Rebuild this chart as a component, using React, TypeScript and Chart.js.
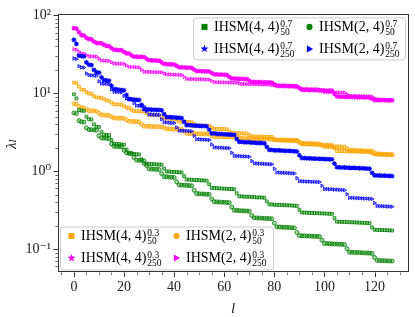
import React, { useEffect, useRef } from 'react';
import { Chart, registerables } from 'chart.js';

Chart.register(...registerables);

// ---------------- data (index = l, 0..127) ----------------
const green44 = [
  9.7, 8.6,
  6.1, 6.0, 5.95,
  5.0, 4.65, 4.6,
  4.0, 3.72, 3.68,
  3.2, 2.95, 2.92, 2.9,
  2.5, 2.26, 2.24, 2.22, 2.2, 2.19,
  1.9, 1.68, 1.67, 1.66, 1.65, 1.64,
  1.42, 1.25, 1.24, 1.24, 1.23, 1.23, 1.22, 1.22, 1.21,
  1.08, 0.99, 0.99, 0.98, 0.98, 0.97, 0.97, 0.96,
  0.86, 0.78, 0.78, 0.775, 0.77, 0.77, 0.765, 0.76, 0.76, 0.755,
  0.68, 0.61, 0.61, 0.605, 0.6, 0.6, 0.595, 0.595, 0.59, 0.59, 0.585,
  0.52, 0.475, 0.475, 0.47, 0.47, 0.47, 0.465, 0.465, 0.46, 0.46, 0.46, 0.455,
  0.41, 0.375, 0.375, 0.37, 0.37, 0.37, 0.368, 0.366, 0.365, 0.364, 0.362, 0.36, 0.358,
  0.32, 0.295, 0.294, 0.293, 0.292, 0.291, 0.29, 0.289, 0.288, 0.287, 0.286, 0.285, 0.284, 0.283,
  0.25, 0.225, 0.224, 0.223, 0.223, 0.222, 0.221, 0.221, 0.22, 0.219, 0.218, 0.218, 0.217, 0.216, 0.215,
  0.19, 0.177, 0.176, 0.176, 0.175, 0.175, 0.174, 0.174, 0.173,
];

const green24 = [
  5.6, 5.5,
  4.45, 4.3, 4.27,
  3.6, 3.42, 3.4, 3.38, 3.36,
  2.85, 2.67, 2.65, 2.64, 2.62,
  2.25, 2.09, 2.08, 2.07, 2.06,
  1.85, 1.72, 1.71, 1.7,
  1.5, 1.39, 1.38, 1.37, 1.36,
  1.18, 1.07, 1.065, 1.06, 1.055, 1.05,
  0.93, 0.85, 0.845, 0.84, 0.835, 0.83,
  0.73, 0.665, 0.662, 0.66, 0.657, 0.654, 0.65,
  0.57, 0.515, 0.513, 0.51, 0.508, 0.506, 0.504,
  0.44, 0.405, 0.403, 0.401, 0.4, 0.398, 0.396, 0.394,
  0.345, 0.315, 0.313, 0.312, 0.31, 0.309, 0.308, 0.306,
  0.27, 0.252, 0.251, 0.25, 0.249, 0.248, 0.247, 0.246, 0.245,
  0.215, 0.193, 0.192, 0.191, 0.19, 0.19, 0.189, 0.188, 0.187,
  0.163, 0.149, 0.148, 0.148, 0.147, 0.147, 0.146, 0.146, 0.145, 0.145,
  0.13, 0.118, 0.118, 0.117, 0.117, 0.116, 0.116, 0.115, 0.115, 0.114,
  0.101, 0.091, 0.091, 0.0905, 0.09, 0.09, 0.0895, 0.089, 0.089, 0.0885, 0.088,
  0.078, 0.0715, 0.0713, 0.071, 0.0708, 0.0705, 0.0703, 0.07,
];

const blue44 = [
  48.5, 43,
  30.5, 30, 29.75,
  25, 23.25, 23,
  20, 18.6, 18.4,
  16, 14.75, 14.6, 14.5,
  12.5, 11.3, 11.2, 11.1, 11, 10.95,
  9.5, 8.4, 8.35, 8.3, 8.25, 8.2,
  7.1, 6.25, 6.2, 6.2, 6.15, 6.15, 6.1, 6.1, 6.05,
  5.4, 4.95, 4.95, 4.9, 4.9, 4.85, 4.85, 4.8,
  4.3, 3.9, 3.9, 3.875, 3.85, 3.85, 3.825, 3.8, 3.8, 3.775,
  3.4, 3.05, 3.05, 3.025, 3, 3, 2.975, 2.975, 2.95, 2.95, 2.925,
  2.6, 2.375, 2.375, 2.35, 2.35, 2.35, 2.325, 2.325, 2.3, 2.3, 2.3, 2.275,
  2.05, 1.875, 1.875, 1.85, 1.85, 1.85, 1.84, 1.83, 1.825, 1.82, 1.81, 1.8, 1.79,
  1.6, 1.475, 1.47, 1.465, 1.46, 1.455, 1.45, 1.445, 1.44, 1.435, 1.43, 1.425, 1.42, 1.415,
  1.25, 1.125, 1.12, 1.115, 1.115, 1.11, 1.105, 1.105, 1.1, 1.095, 1.09, 1.09, 1.085, 1.08, 1.075,
  0.95, 0.885, 0.88, 0.88, 0.875, 0.875, 0.87, 0.87, 0.865,
];

const blue24 = [
  28, 27.5,
  22.25, 21.5, 21.35,
  18, 17.1, 17, 16.9, 16.8,
  14.25, 13.35, 13.25, 13.2, 13.1,
  11.25, 10.45, 10.4, 10.35, 10.3,
  9.25, 8.6, 8.55, 8.5,
  7.5, 6.95, 6.9, 6.85, 6.8,
  5.9, 5.35, 5.325, 5.3, 5.275, 5.25,
  4.65, 4.25, 4.225, 4.2, 4.175, 4.15,
  3.65, 3.325, 3.31, 3.3, 3.285, 3.27, 3.25,
  2.85, 2.575, 2.565, 2.55, 2.54, 2.53, 2.52,
  2.2, 2.025, 2.015, 2.005, 2, 1.99, 1.98, 1.97,
  1.725, 1.575, 1.565, 1.56, 1.55, 1.545, 1.54, 1.53,
  1.35, 1.26, 1.255, 1.25, 1.245, 1.24, 1.235, 1.23, 1.225,
  1.075, 0.965, 0.96, 0.955, 0.95, 0.95, 0.945, 0.94, 0.935,
  0.815, 0.745, 0.74, 0.74, 0.735, 0.735, 0.73, 0.73, 0.725, 0.725,
  0.65, 0.59, 0.59, 0.585, 0.585, 0.58, 0.58, 0.575, 0.575, 0.57,
  0.505, 0.455, 0.455, 0.4525, 0.45, 0.45, 0.4475, 0.445, 0.445, 0.4425, 0.44,
  0.39, 0.3575, 0.3565, 0.355, 0.354, 0.3525, 0.3515, 0.35,
];

const orange44 = [
  13.7, 13.5,
  12.2, 11.15, 11.05,
  10.3, 9.95, 9.85,
  9.2, 8.85, 8.8, 8.75,
  8.4, 8.1, 8.05,
  7.6, 7.25, 7.2, 7.18, 7.15,
  6.8, 6.52, 6.48,
  6.15, 5.92, 5.9, 5.88, 5.86, 5.84,
  5.55, 5.32, 5.3, 5.28, 5.26, 5.24,
  4.98, 4.76, 4.74, 4.72, 4.7, 4.68,
  4.5, 4.32, 4.3, 4.29, 4.28, 4.26, 4.25,
  4.03, 3.86, 3.85, 3.84, 3.83, 3.82, 3.81,
  3.64, 3.5, 3.49, 3.48, 3.47, 3.46, 3.45,
  3.25, 3.1, 3.09, 3.08, 3.07, 3.06, 3.05, 3.04,
  2.9, 2.8, 2.79, 2.78, 2.78, 2.77, 2.76, 2.76, 2.75, 2.74,
  2.6, 2.5, 2.49, 2.48, 2.48, 2.47, 2.46, 2.46, 2.45, 2.44,
  2.32, 2.22, 2.21, 2.21, 2.2, 2.2, 2.19, 2.19, 2.18, 2.18, 2.17, 2.17, 2.16, 2.16,
  1.97, 1.82, 1.81, 1.81, 1.8, 1.8, 1.8, 1.79, 1.79, 1.78, 1.78, 1.78, 1.77, 1.77, 1.76,
  1.7, 1.64, 1.64, 1.63, 1.63, 1.63, 1.62, 1.62, 1.62,
];

const orange24 = [
  7.35, 7.25,
  6.8, 6.5, 6.45,
  6.2, 5.97, 5.95, 5.93, 5.9,
  5.55, 5.27, 5.25, 5.23, 5.2,
  5.0, 4.82, 4.8, 4.79, 4.78, 4.76,
  4.55, 4.37, 4.35, 4.34, 4.32, 4.3,
  4.0, 3.78, 3.77, 3.76, 3.75, 3.74, 3.73, 3.72, 3.71,
  3.6, 3.5, 3.49, 3.48, 3.47, 3.46, 3.45, 3.44,
  3.25, 3.06, 3.05, 3.05, 3.04, 3.03, 3.03, 3.02, 3.01, 3.0, 3.0,
  2.88, 2.78, 2.77, 2.77, 2.76, 2.76, 2.75, 2.75, 2.74, 2.74, 2.73,
  2.68, 2.63, 2.63, 2.62, 2.62, 2.62, 2.61, 2.61, 2.6, 2.6, 2.6, 2.59, 2.59,
  2.55, 2.53, 2.52, 2.52, 2.51, 2.51, 2.5, 2.5, 2.5, 2.49, 2.49,
  2.38, 2.28, 2.27, 2.27, 2.26, 2.26, 2.25, 2.25, 2.24,
  2.15, 2.08, 2.07, 2.07, 2.06, 2.06, 2.05, 2.05, 2.04, 2.04,
  1.94, 1.86, 1.85, 1.85, 1.84, 1.84, 1.83, 1.83, 1.82, 1.82, 1.81,
  1.72, 1.66, 1.66, 1.65, 1.65, 1.64, 1.64, 1.63,
];

const magenta44 = [
  68.5, 67.5,
  61, 55.75, 55.25,
  51.5, 49.75, 49.25,
  46, 44.25, 44, 43.75,
  42, 40.5, 40.25,
  38, 36.25, 36, 35.9, 35.75,
  34, 32.6, 32.4,
  30.75, 29.6, 29.5, 29.4, 29.3, 29.2,
  27.75, 26.6, 26.5, 26.4, 26.3, 26.2,
  24.9, 23.8, 23.7, 23.6, 23.5, 23.4,
  22.5, 21.6, 21.5, 21.45, 21.4, 21.3, 21.25,
  20.15, 19.3, 19.25, 19.2, 19.15, 19.1, 19.05,
  18.2, 17.5, 17.45, 17.4, 17.35, 17.3, 17.25,
  16.25, 15.5, 15.45, 15.4, 15.35, 15.3, 15.25, 15.2,
  14.5, 14, 13.95, 13.9, 13.9, 13.85, 13.8, 13.8, 13.75, 13.7,
  13, 12.5, 12.45, 12.4, 12.4, 12.35, 12.3, 12.3, 12.25, 12.2,
  11.6, 11.1, 11.05, 11.05, 11, 11, 10.95, 10.95, 10.9, 10.9, 10.85, 10.85, 10.8, 10.8,
  9.85, 9.1, 9.05, 9.05, 9, 9, 9, 8.95, 8.95, 8.9, 8.9, 8.9, 8.85, 8.85, 8.8,
  8.5, 8.2, 8.2, 8.15, 8.15, 8.15, 8.1, 8.1, 8.1,
];

const magenta24 = [
  36.75, 36.25,
  34, 32.5, 32.25,
  31, 29.85, 29.75, 29.65, 29.5,
  27.75, 26.35, 26.25, 26.15, 26,
  25, 24.1, 24, 23.95, 23.9, 23.8,
  22.75, 21.85, 21.75, 21.7, 21.6, 21.5,
  20, 18.9, 18.85, 18.8, 18.75, 18.7, 18.65, 18.6, 18.55,
  18, 17.5, 17.45, 17.4, 17.35, 17.3, 17.25, 17.2,
  16.25, 15.3, 15.25, 15.25, 15.2, 15.15, 15.15, 15.1, 15.05, 15, 15,
  14.4, 13.9, 13.85, 13.85, 13.8, 13.8, 13.75, 13.75, 13.7, 13.7, 13.65,
  13.4, 13.15, 13.15, 13.1, 13.1, 13.1, 13.05, 13.05, 13, 13, 13, 12.95, 12.95,
  12.75, 12.65, 12.6, 12.6, 12.55, 12.55, 12.5, 12.5, 12.5, 12.45, 12.45,
  11.9, 11.4, 11.35, 11.35, 11.3, 11.3, 11.25, 11.25, 11.2,
  10.75, 10.4, 10.35, 10.35, 10.3, 10.3, 10.25, 10.25, 10.2, 10.2,
  9.7, 9.3, 9.25, 9.25, 9.2, 9.2, 9.15, 9.15, 9.1, 9.1, 9.05,
  8.6, 8.3, 8.3, 8.25, 8.25, 8.2, 8.2, 8.15,
];

const xTicks = [0, 20, 40, 60, 80, 100, 120];
const yTicks = [0.1, 1, 10, 100];
const yTickLabels = ['10⁻¹', '10⁰', '10¹', '10²'];

// ---------------- styling ----------------
const FONT = '"Liberation Serif", "DejaVu Serif", serif';
const SPINE = '#333333';

type Marker = 'rect' | 'circle' | 'star' | 'triangle';
const SERIES: { name: string; sup: string; sub: string; values: number[]; color: string; marker: Marker }[] = [
  { name: 'IHSM(4, 4)', sup: '0.7', sub: '50', values: green44, color: '#008000', marker: 'rect' },
  { name: 'IHSM(2, 4)', sup: '0.7', sub: '50', values: green24, color: '#008000', marker: 'circle' },
  { name: 'IHSM(4, 4)', sup: '0.7', sub: '250', values: blue44, color: '#0000ff', marker: 'star' },
  { name: 'IHSM(2, 4)', sup: '0.7', sub: '250', values: blue24, color: '#0000ff', marker: 'triangle' },
  { name: 'IHSM(4, 4)', sup: '0.3', sub: '50', values: orange44, color: '#ffa500', marker: 'rect' },
  { name: 'IHSM(2, 4)', sup: '0.3', sub: '50', values: orange24, color: '#ffa500', marker: 'circle' },
  { name: 'IHSM(4, 4)', sup: '0.3', sub: '250', values: magenta44, color: '#ff00ff', marker: 'star' },
  { name: 'IHSM(2, 4)', sup: '0.3', sub: '250', values: magenta24, color: '#ff00ff', marker: 'triangle' },
];

function rgba(hex: string, a: number) {
  const n = parseInt(hex.slice(1), 16);
  return `rgba(${(n >> 16) & 255},${(n >> 8) & 255},${n & 255},${a})`;
}

function drawMarker(ctx: CanvasRenderingContext2D, m: Marker, x: number, y: number, color: string) {
  ctx.save();
  ctx.fillStyle = color;
  ctx.beginPath();
  if (m === 'rect') {
    ctx.rect(x - 3, y - 3, 6, 6);
  } else if (m === 'circle') {
    ctx.arc(x, y, 3.1, 0, Math.PI * 2);
  } else if (m === 'star') {
    for (let i = 0; i < 10; i++) {
      const r = i % 2 === 0 ? 4.2 : 1.7;
      const ang = -Math.PI / 2 + (i * Math.PI) / 5;
      const px = x + r * Math.cos(ang);
      const py = y + r * Math.sin(ang);
      if (i === 0) ctx.moveTo(px, py);
      else ctx.lineTo(px, py);
    }
    ctx.closePath();
  } else {
    ctx.moveTo(x + 3.6, y);
    ctx.lineTo(x - 2.6, y - 3.6);
    ctx.lineTo(x - 2.6, y + 3.6);
    ctx.closePath();
  }
  ctx.fill();
  ctx.restore();
}

function drawLegend(ctx: CanvasRenderingContext2D, left: number, top: number, w: number, h: number, entries: typeof SERIES) {
  ctx.save();
  ctx.beginPath();
  (ctx as any).roundRect(left + 0.5, top + 0.5, w, h, 3);
  ctx.fillStyle = 'rgba(255,255,255,0.8)';
  ctx.fill();
  ctx.strokeStyle = '#cccccc';
  ctx.lineWidth = 1;
  ctx.stroke();
  entries.forEach((e, i) => {
    const col = i % 2;
    const row = Math.floor(i / 2);
    const mx = left + 11.5 + col * 105;
    const my = top + 9.5 + row * 22;
    drawMarker(ctx, e.marker, mx, my, e.color);
    const tx = mx + 9.5;
    const ty = my + 4.2;
    ctx.fillStyle = '#000';
    ctx.textBaseline = 'alphabetic';
    ctx.textAlign = 'left';
    ctx.font = `14px ${FONT}`;
    ctx.fillText(e.name, tx, ty);
    const tw = ctx.measureText(e.name).width;
    ctx.font = `9.5px ${FONT}`;
    ctx.fillText(e.sup, tx + tw + 1, ty - 3.8);
    ctx.fillText(e.sub, tx + tw + 1, ty + 3.6);
  });
  ctx.restore();
}

const mplPlugin = {
  id: 'mplAxes',
  afterDatasetsDraw(chart: any) {
    const { ctx, chartArea: a } = chart;
    const xs = chart.scales.x;
    const ys = chart.scales.y;
    ctx.save();
    ctx.strokeStyle = SPINE;
    const line = (x1: number, y1: number, x2: number, y2: number, w: number) => {
      ctx.lineWidth = w;
      ctx.beginPath();
      ctx.moveTo(x1, y1);
      ctx.lineTo(x2, y2);
      ctx.stroke();
    };
    // x ticks (major every 20, minor every 5)
    for (let v = -5; v <= 130; v += 5) {
      const px = Math.round(xs.getPixelForValue(v)) + 0.5;
      const major = v % 20 === 0;
      line(px, a.bottom, px, a.bottom + (major ? 4.5 : 2.6), major ? 1 : 0.7);
    }
    // y ticks (log decades major, 2..9 minor)
    for (let k = -2; k <= 2; k++) {
      for (let m = 1; m <= 9; m++) {
        const v = m * Math.pow(10, k);
        if (v < 0.0501 || v > 100.01) continue;
        const py = Math.round(ys.getPixelForValue(v)) + 0.5;
        const major = m === 1;
        line(a.left, py, a.left - (major ? 4.5 : 2.6), py, major ? 1 : 0.7);
      }
    }
    // frame
    ctx.lineWidth = 1;
    ctx.strokeRect(Math.round(a.left) + 0.5, Math.round(a.top) - 0.5, Math.round(a.right - a.left), Math.round(a.bottom - a.top));
    ctx.restore();
  },
  afterDraw(chart: any) {
    const { ctx, chartArea: a } = chart;
    drawLegend(ctx, a.right - 215, a.top + 2, 212, 42, SERIES.slice(0, 4));
    drawLegend(ctx, a.left + 2, a.bottom - 46, 213, 43, SERIES.slice(4, 8));
  },
};

export default function App() {
  const canvasRef = useRef<HTMLCanvasElement | null>(null);

  useEffect(() => {
    const canvas = canvasRef.current;
    if (!canvas) return;
    const chart = new Chart(canvas, {
      type: 'scatter',
      data: {
        datasets: SERIES.map((s) => ({
          label: s.name,
          data: s.values.map((v, i) => ({ x: i, y: v })),
          pointStyle: s.marker === 'triangle' ? 'triangle' : s.marker,
          rotation: s.marker === 'triangle' ? 90 : 0,
          pointRadius: s.marker === 'star' ? 2.4 : 2,
          pointBorderWidth: s.marker === 'star' ? 1.1 : 0.8,
          borderColor: s.color,
          backgroundColor: rgba(s.color, 0.35),
          showLine: false,
        })),
      },
      options: {
        animation: false,
        responsive: false,
        devicePixelRatio: 1,
        layout: { padding: { top: 12, right: 7, left: 0, bottom: 0 } },
        plugins: { legend: { display: false }, tooltip: { enabled: false } },
        events: [],
        scales: {
          x: {
            type: 'linear',
            min: -6.35,
            max: 133.35,
            afterBuildTicks: (s: any) => {
              s.ticks = xTicks.map((v) => ({ value: v }));
            },
            afterFit: (s: any) => {
              s.height = 44.5;
            },
            grid: { display: false, drawTicks: false },
            border: { display: false },
            ticks: {
              padding: 6,
              color: '#222',
              font: { family: FONT, size: 14 },
              autoSkip: false,
              maxRotation: 0,
              callback: (v: any) => String(v),
            },
            title: {
              display: true,
              text: 'l',
              color: '#222',
              padding: 0,
              font: { family: FONT, size: 15, style: 'italic', lineHeight: 1 },
            },
          },
          y: {
            type: 'logarithmic',
            min: 0.05,
            max: 100,
            afterBuildTicks: (s: any) => {
              s.ticks = yTicks.map((v) => ({ value: v }));
            },
            afterFit: (s: any) => {
              s.width = 58;
            },
            grid: { display: false, drawTicks: false },
            border: { display: false },
            ticks: {
              padding: 7,
              color: '#222',
              font: { family: FONT, size: 14 },
              autoSkip: false,
              callback: (_v: any, i: number) => yTickLabels[i],
            },
            title: {
              display: true,
              text: 'λₗ',
              color: '#222',
              padding: { top: 5, bottom: 0 },
              font: { family: FONT, size: 15, style: 'italic', lineHeight: 1 },
            },
          },
        },
      },
      plugins: [mplPlugin],
    } as any);
    return () => chart.destroy();
  }, []);

  return (
    <div style={{ position: 'fixed', left: 0, top: 0, width: 415, height: 317, background: '#fff' }}>
      <canvas ref={canvasRef} width={415} height={317} style={{ width: 415, height: 317, display: 'block' }} />
    </div>
  );
}
